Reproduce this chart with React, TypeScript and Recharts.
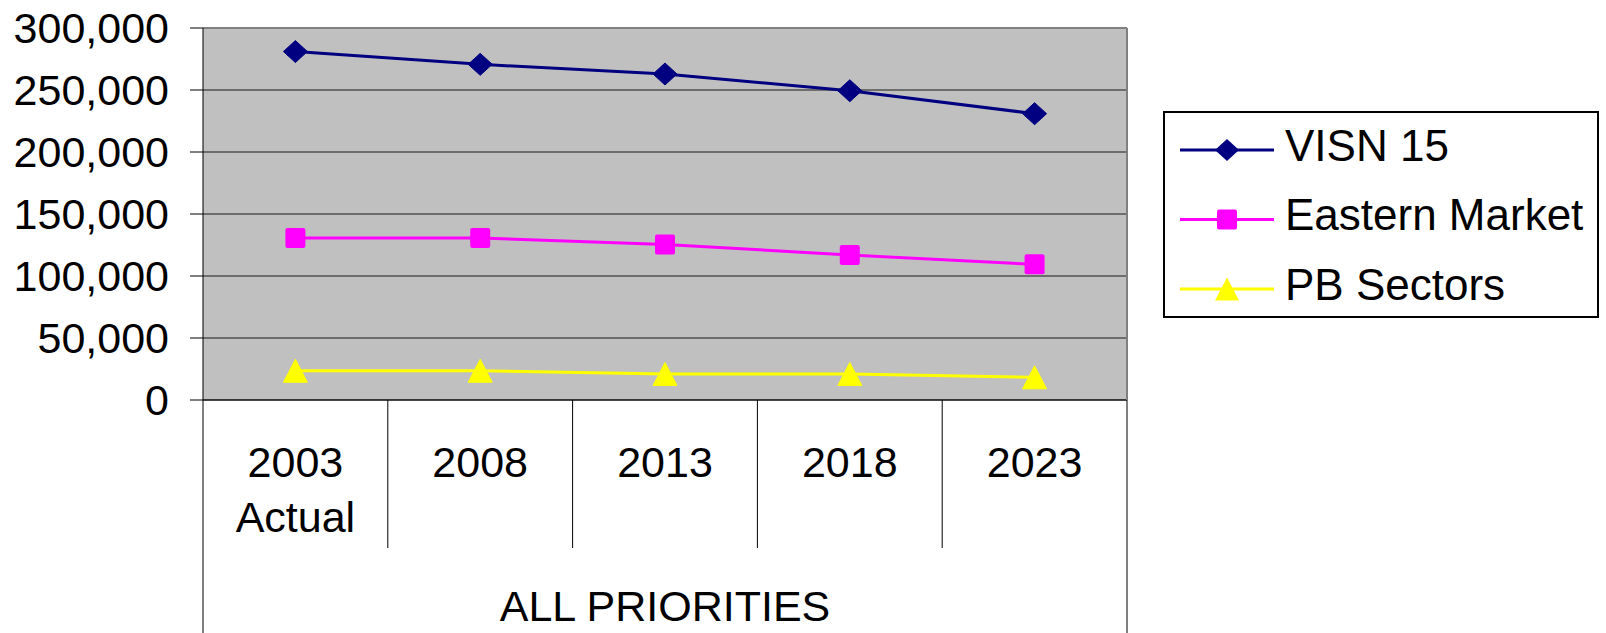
import React from 'react';
import { LineChart, Line, XAxis, YAxis, CartesianGrid, Legend, ReferenceLine } from 'recharts';

// ---- data ----
const categories = ['2003\nActual', '2008', '2013', '2018', '2023'];
const visn15 = [281000, 270700, 262900, 249400, 230900];
const easternMarket = [130600, 130600, 125500, 116900, 109400];
const pbSectors = [23600, 23600, 21000, 21000, 18300];
const yTicks = [0, 50000, 100000, 150000, 200000, 250000, 300000];
const groupLabel = 'ALL PRIORITIES';
const seriesNames = ['VISN 15', 'Eastern Market', 'PB Sectors'];

const data = categories.map((c, i) => ({
  name: c,
  visn: visn15[i],
  eastern: easternMarket[i],
  pb: pbSectors[i],
}));

// ---- layout ----
const W = 1606;
const H = 633;
const FONT = '"Liberation Sans", Arial, sans-serif';
const MARGIN = { top: 28, right: 479, bottom: 0, left: 0 };
const Y_AXIS_W = 203;
const X_AXIS_H = 233;
const PLOT_LEFT = Y_AXIS_W;
const PLOT_RIGHT = W - MARGIN.right;
const PLOT_TOP = MARGIN.top;
const PLOT_BOTTOM = H - X_AXIS_H;
const BAND = (PLOT_RIGHT - PLOT_LEFT) / categories.length;

const NAVY = '#000080';
const MAGENTA = '#FF00FF';
const YELLOW = '#FFFF00';

const diamondPath = (cx: number, cy: number, hw: number, hh: number) =>
  `M${cx},${cy - hh} L${cx + hw},${cy} L${cx},${cy + hh} L${cx - hw},${cy} Z`;
const trianglePath = (cx: number, cy: number, hw: number, hh: number) =>
  `M${cx},${cy - hh} L${cx + hw},${cy + hh} L${cx - hw},${cy + hh} Z`;

const DiamondDot = (props: any) => {
  const { cx, cy, index } = props;
  if (cx == null || cy == null) return null;
  return <path key={`d${index}`} d={diamondPath(cx, cy, 12, 11)} fill={NAVY} stroke={NAVY} />;
};
const SquareDot = (props: any) => {
  const { cx, cy, index } = props;
  if (cx == null || cy == null) return null;
  return <rect key={`s${index}`} x={cx - 10} y={cy - 10} width={20} height={20} rx={2} fill={MAGENTA} />;
};
const TriangleDot = (props: any) => {
  const { cx, cy, index } = props;
  if (cx == null || cy == null) return null;
  return <path key={`t${index}`} d={trianglePath(cx, cy, 12, 11.5)} fill={YELLOW} stroke={YELLOW} strokeLinejoin="round" />;
};

const XTick = (props: any) => {
  const { x, index, payload } = props;
  const lines = String(payload.value).split('\n');
  const left = x - BAND / 2;
  const right = x + BAND / 2;
  const isLast = index === categories.length - 1;
  return (
    <g>
      <line x1={left} y1={PLOT_BOTTOM} x2={left} y2={index === 0 ? H : 548} stroke="#000" strokeWidth={1} />
      {isLast && (
        <>
          <line x1={right} y1={PLOT_BOTTOM} x2={right} y2={H} stroke="#000" strokeWidth={1} />
          <line x1={right} y1={PLOT_TOP} x2={right} y2={PLOT_BOTTOM} stroke="#808080" strokeWidth={2} />
        </>
      )}
      {lines.map((l, i) => (
        <text key={i} x={x} y={477 + i * 55} textAnchor="middle" fontSize={43} fontFamily={FONT} fill="#000">
          {l}
        </text>
      ))}
      {index === Math.floor(categories.length / 2) && (
        <text x={(PLOT_LEFT + PLOT_RIGHT) / 2} y={621} textAnchor="middle" fontSize={43} fontFamily={FONT} fill="#000">
          {groupLabel}
        </text>
      )}
    </g>
  );
};

const LegendContent = () => {
  const rows = [
    { name: seriesNames[0], color: NAVY, shape: 'diamond' },
    { name: seriesNames[1], color: MAGENTA, shape: 'square' },
    { name: seriesNames[2], color: YELLOW, shape: 'triangle' },
  ];
  const centers = [39, 108.5, 178];
  return (
    <svg width={436} height={207} style={{ display: 'block' }}>
      <rect x={1} y={1} width={434} height={205} fill="#fff" stroke="#000" strokeWidth={2} />
      {rows.map((r, i) => {
        const cy = centers[i];
        const mx = 64;
        return (
          <g key={r.name}>
            <line x1={17} y1={cy} x2={111} y2={cy} stroke={r.color} strokeWidth={3} />
            {r.shape === 'diamond' && <path d={diamondPath(mx, cy, 12, 11)} fill={r.color} />}
            {r.shape === 'square' && <rect x={mx - 10} y={cy - 10} width={20} height={20} rx={2} fill={r.color} />}
            {r.shape === 'triangle' && <path d={trianglePath(mx, cy, 12, 11.5)} fill={r.color} />}
            <text x={122} y={cy + 10.5} fontSize={44} fontFamily={FONT} fill="#000">
              {r.name}
            </text>
          </g>
        );
      })}
    </svg>
  );
};

export default function App() {
  return (
    <div style={{ position: 'absolute', left: 0, top: 0, width: W, height: H, background: '#fff' }}>
      <LineChart width={W} height={H} data={data} margin={MARGIN}>
        <CartesianGrid fill="#C0C0C0" stroke="#1a1a1a" vertical={false} horizontalValues={yTicks} />
        <ReferenceLine y={300000} stroke="#808080" strokeWidth={2} ifOverflow="extendDomain" />
        <XAxis
          dataKey="name"
          scale="band"
          height={X_AXIS_H}
          interval={0}
          tickLine={false}
          axisLine={{ stroke: '#000', strokeWidth: 1 }}
          tick={<XTick />}
        />
        <YAxis
          width={Y_AXIS_W}
          domain={[0, 300000]}
          ticks={yTicks}
          interval={0}
          tickSize={13}
          tickMargin={21}
          tickLine={{ stroke: '#000' }}
          axisLine={{ stroke: '#000', strokeWidth: 1 }}
          tick={{ fontSize: 43, fontFamily: FONT, fill: '#000' }}
          tickFormatter={(v: number) => v.toLocaleString('en-US')}
        />
        <Legend
          layout="vertical"
          align="center"
          verticalAlign="middle"
          content={<LegendContent />}
          wrapperStyle={{ position: 'absolute', left: 1163, top: 111, width: 436, height: 207 }}
        />
        <Line
          name={seriesNames[0]}
          dataKey="visn"
          stroke={NAVY}
          strokeWidth={3}
          dot={DiamondDot}
          activeDot={false}
          isAnimationActive={false}
        />
        <Line
          name={seriesNames[1]}
          dataKey="eastern"
          stroke={MAGENTA}
          strokeWidth={3}
          dot={SquareDot}
          activeDot={false}
          isAnimationActive={false}
        />
        <Line
          name={seriesNames[2]}
          dataKey="pb"
          stroke={YELLOW}
          strokeWidth={3}
          dot={TriangleDot}
          activeDot={false}
          isAnimationActive={false}
        />
      </LineChart>
    </div>
  );
}
